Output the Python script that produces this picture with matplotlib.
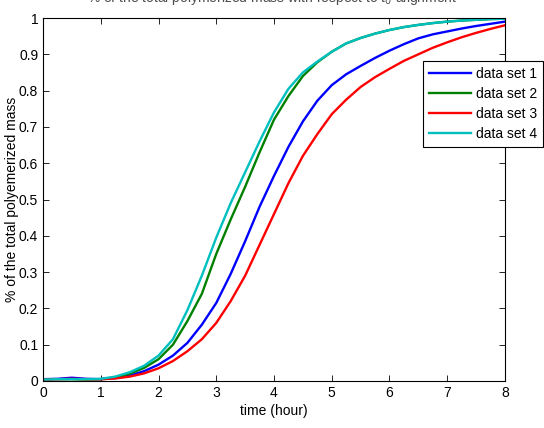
import numpy as np
import matplotlib
matplotlib.use('Agg')
import matplotlib.pyplot as plt

plt.rcParams['font.family'] = ['Liberation Sans', 'DejaVu Sans']

# time axis (hours), 0.25 h steps
t = np.arange(0, 8.01, 0.25)

set1 = [0.005, 0.006, 0.009, 0.006, 0.005, 0.008, 0.015, 0.027, 0.045, 0.07, 0.105,
        0.155, 0.215, 0.295, 0.385, 0.48, 0.565, 0.645, 0.715, 0.772, 0.815, 0.845,
        0.868, 0.89, 0.91, 0.928, 0.944, 0.955, 0.963, 0.971, 0.978, 0.984, 0.99]
set2 = [0.004, 0.005, 0.005, 0.004, 0.005, 0.01, 0.02, 0.036, 0.06, 0.10, 0.165,
        0.24, 0.35, 0.445, 0.535, 0.63, 0.72, 0.785, 0.84, 0.878, 0.907, 0.93,
        0.945, 0.957, 0.967, 0.975, 0.981, 0.986, 0.99, 0.993, 0.995, 0.997, 0.998]
set3 = [0.004, 0.005, 0.006, 0.005, 0.005, 0.007, 0.012, 0.021, 0.035, 0.055, 0.082,
        0.115, 0.16, 0.22, 0.29, 0.375, 0.46, 0.545, 0.62, 0.68, 0.735, 0.775,
        0.81, 0.837, 0.86, 0.882, 0.90, 0.918, 0.933, 0.947, 0.959, 0.97, 0.98]
set4 = [0.004, 0.005, 0.005, 0.005, 0.006, 0.012, 0.024, 0.042, 0.07, 0.115, 0.195,
        0.29, 0.395, 0.49, 0.575, 0.66, 0.74, 0.805, 0.85, 0.88, 0.907, 0.93,
        0.945, 0.957, 0.967, 0.975, 0.981, 0.986, 0.99, 0.993, 0.995, 0.997, 0.998]

labels = ['data set 1', 'data set 2', 'data set 3', 'data set 4']
colors = ['#0000ff', '#008000', '#ff0000', '#00bfbf']

fig = plt.figure(figsize=(5.44, 4.28), dpi=100)
ax = fig.add_axes([43/544, 1 - 381/428, (505 - 43)/544, (381 - 18)/428])

for y, lab, c in zip([set1, set2, set3, set4], labels, colors):
    ax.plot(t, y, color=c, lw=1.7, label=lab)

ax.set_xlim(0, 8)
ax.set_ylim(0, 1)
ax.set_xticks(range(0, 9))
ax.set_yticks(np.arange(0, 1.01, 0.1))
ax.set_yticklabels(['0', '0.1', '0.2', '0.3', '0.4', '0.5', '0.6', '0.7', '0.8', '0.9', '1'])
ax.tick_params(direction='in', top=True, right=True, length=4, labelsize=10, width=0.6)
for s in ax.spines.values():
    s.set_linewidth(0.8)

ax.set_xlabel('time (hour)', fontsize=10, labelpad=3)
ax.set_ylabel('% of the total polyemerized mass', fontsize=10)
ax.yaxis.set_label_coords(-0.052, 0.5)

# title is clipped at the top edge of the picture, as in the original
fig.text(0.5, 1 - 2/428, '% of the total polymerized mass with respect to t$_0$ alignment',
         ha='center', va='baseline', fontsize=10, color='0.3')

leg = fig.legend(loc='upper right', bbox_to_anchor=(543/544, 1 - 61/428), fontsize=10,
                 fancybox=False, edgecolor='black', framealpha=1, handlelength=3.0,
                 handletextpad=0.4, borderaxespad=0, labelspacing=0.45)
leg.get_frame().set_linewidth(0.8)

fig.savefig('out.png', dpi=100)
